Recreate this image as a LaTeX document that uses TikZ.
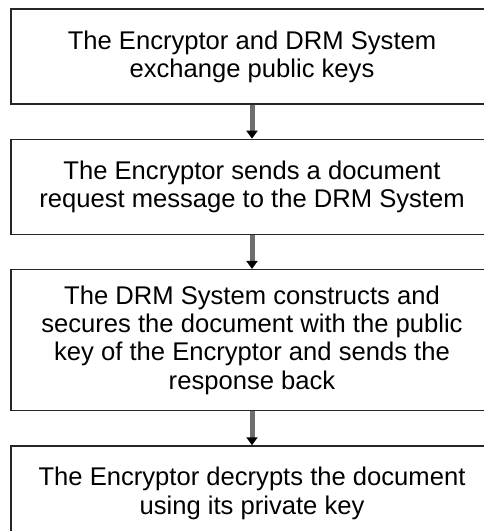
\documentclass[tikz,border=0pt]{standalone}
\usepackage{fontspec}
\setmainfont{Liberation Sans}
\usepackage{tikz}
\usetikzlibrary{positioning,arrows.meta}
\definecolor{edge}{HTML}{262626}
\definecolor{shaft}{HTML}{6E6E6E}
\tikzset{
  box/.style={draw=edge, line width=1.3pt, minimum width=482pt, minimum height=95pt,
    align=center, inner sep=0pt, font=\fontsize{25.6}{28.2}\selectfont},
  arr/.style={draw=shaft, line width=5pt, -{Triangle[length=8pt, width=11pt, color=black]}}
}

\begin{document}
\begin{tikzpicture}[x=1pt, y=1pt]
  \useasboundingbox (0,0) rectangle (483,-531);

  \node[box] (exch) at (252,-56.5) {The Encryptor and DRM System\\exchange public keys};
  \node[box, below=34pt of exch] (req) {The Encryptor sends a document\\request message to the DRM System};
  \node[box, below=34pt of req, minimum height=141pt] (resp) {The DRM System constructs and\\secures the document with the public\\key of the Encryptor and sends the\\response back};
  \node[box, below=34pt of resp] (decr) {The Encryptor decrypts the document\\using its private key};

  % connectors
  \draw[arr] (exch) -- (req);
  \draw[arr] (req) -- (resp);
  \draw[arr] (resp) -- (decr);
\end{tikzpicture}
\end{document}
